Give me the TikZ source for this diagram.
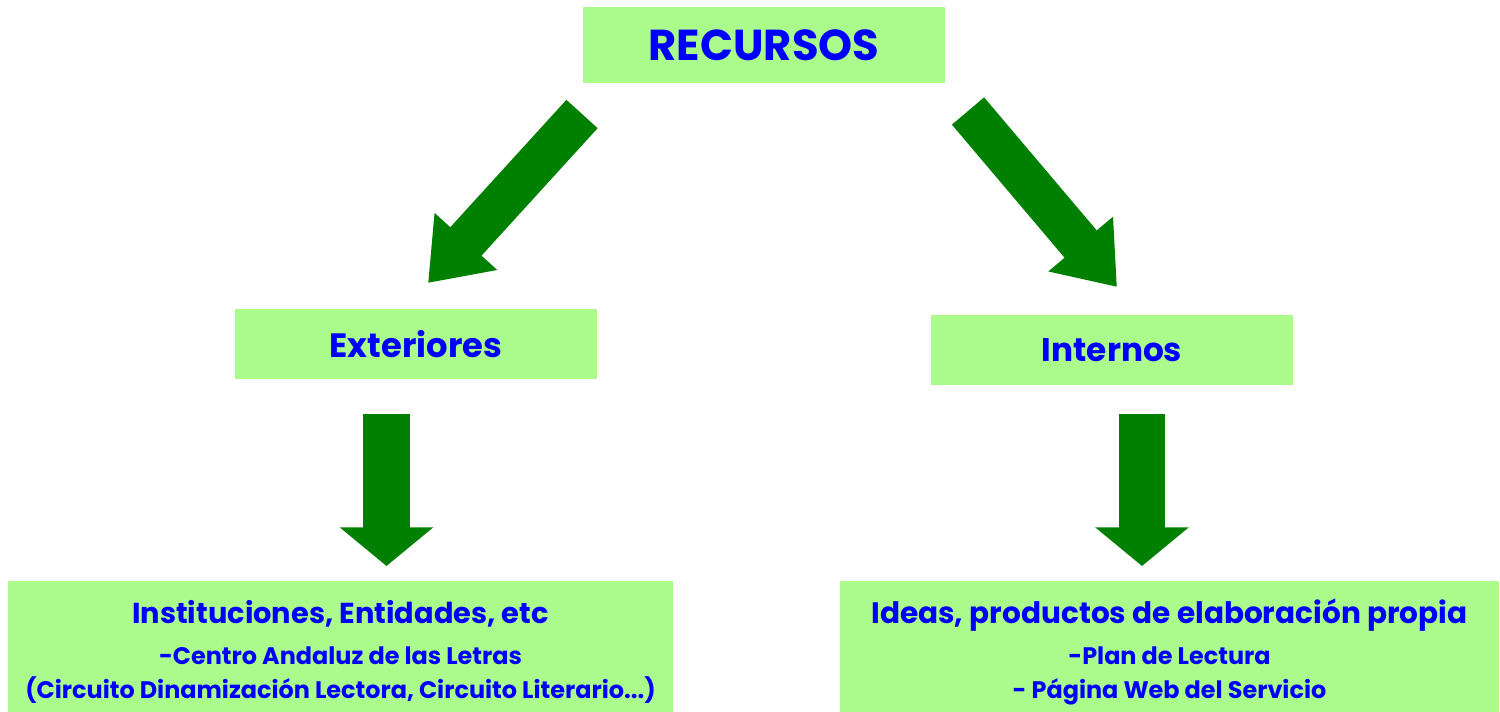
\documentclass[tikz,border=0pt]{standalone}
\usepackage{fontspec}
\setmainfont{Poppins}
\usetikzlibrary{arrows.meta}
\definecolor{boxgreen}{RGB}{170,250,140}
\definecolor{arrowgreen}{RGB}{0,128,0}
\definecolor{textblue}{RGB}{0,0,255}
\setlength{\lineskiplimit}{-20pt}
\tikzset{
  box/.style={fill=boxgreen, text=textblue, font=\bfseries, align=center, inner sep=0pt},
  listbox/.style={box, font=\fontsize{6.8}{9.7}\selectfont\bfseries},
  bigarrow/.style={draw=arrowgreen, line width=12pt, -{Triangle[width=23pt,length=16pt]}},
  downarrow/.style={draw=arrowgreen, line width=13.3pt, -{Triangle[width=26pt,length=11pt]}}
}
\begin{document}
\begin{tikzpicture}[x=0.01cm,y=-0.01cm]
        \useasboundingbox (0,0) rectangle (1500,711);
        \node (R) at (764,45) [box, minimum width=3.62cm, minimum height=0.76cm] {\fontsize{12.3}{15}\selectfont RECURSOS};
        \node (E) at (416,344) [box, minimum width=3.62cm, minimum height=0.70cm] {\fontsize{9.6}{12}\selectfont Exteriores};
        \node (I) at (1112,350) [box, minimum width=3.62cm, minimum height=0.69cm] {\fontsize{9.3}{12}\selectfont Internos};
        \node (EE) at (340.5,652) [listbox, minimum width=6.65cm, minimum height=1.42cm]
            {\fontsize{8.2}{9.7}\selectfont Instituciones, Entidades, etc\\[2pt]
             -Centro Andaluz de las Letras\\
             (Circuito Dinamización Lectora, Circuito Literario...)};
        \node (II) at (1169.5,652) [listbox, minimum width=6.59cm, minimum height=1.42cm]
            {\fontsize{8.4}{9.7}\selectfont Ideas, productos de elaboración propia\\[2pt]
             -Plan de Lectura\\
             - Página Web del Servicio};
        \coordinate (A1) at (582,114);
        \coordinate (A2) at (428,283);
        \coordinate (B1) at (968,111);
        \coordinate (B2) at (1117,287);
        \coordinate (C1) at (386.5,414);
        \coordinate (C2) at (386.5,566);
        \coordinate (D1) at (1142,414);
        \coordinate (D2) at (1142,566);
        \draw[bigarrow] (A1) -- (A2);
        \draw[bigarrow] (B1) -- (B2);
        \draw[downarrow] (C1) -- (C2);
        \draw[downarrow] (D1) -- (D2);
    \end{tikzpicture}
\end{document}
